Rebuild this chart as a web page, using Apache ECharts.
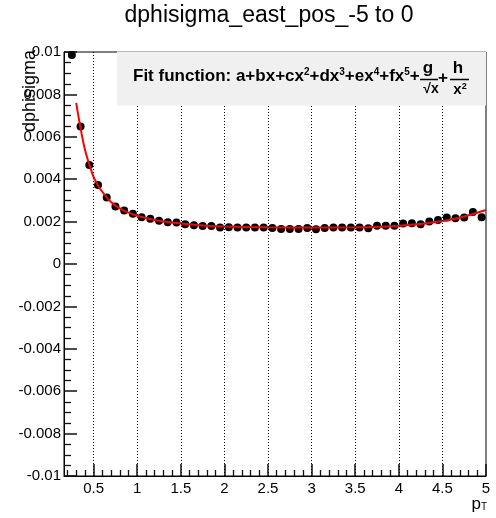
<!DOCTYPE html>
<html><head><meta charset="utf-8">
<script src="https://cdn.jsdelivr.net/npm/echarts@6/dist/echarts.min.js"></script>
<style>html,body{margin:0;padding:0;background:#fff}#c{width:496px;height:518px}</style>
</head><body><div id="c"></div>
<script>
const titleText = 'dphisigma_east_pos_-5 to 0';
const yTitle = 'dphisigma';
const ptX = [0.25,0.35,0.45,0.55,0.65,0.75,0.85,0.95,1.05,1.15,1.25,1.35,1.45,1.55,1.65,1.75,1.85,1.95,
  2.05,2.15,2.25,2.35,2.45,2.55,2.65,2.75,2.85,2.95,3.05,3.15,3.25,3.35,3.45,3.55,3.65,3.75,3.85,3.95,
  4.05,4.15,4.25,4.35,4.45,4.55,4.65,4.75,4.85,4.95];
const ptY = [0.00986,0.00648,0.00467,0.00373,0.00314,0.00271,0.00252,0.00237,0.00221,0.00214,0.00204,0.00197,0.00196,0.00188,0.00183,0.00179,0.00179,0.00172,
  0.00173,0.00172,0.00172,0.00172,0.00172,0.0017,0.00165,0.00165,0.00165,0.0017,0.00164,0.0017,0.00172,0.00172,0.00172,0.00172,0.00169,0.00181,0.0018,0.0018,
  0.00191,0.00192,0.00188,0.002,0.00208,0.00219,0.00216,0.00219,0.00245,0.00221];
const fitX = [0.3,0.35,0.4,0.45,0.5,0.55,0.6,0.7,0.8,0.9,1.0,1.2,1.4,1.6,1.8,2.0,2.5,3.0,3.5,3.8,4.0,4.2,4.4,4.6,4.8,5.0];
const fitY = [0.0076,0.0064,0.0054,0.0047,0.0041,0.0037,0.0034,0.00292,0.00262,0.00242,0.00228,0.00208,0.00196,0.00187,0.00181,0.00177,0.00173,0.00172,0.00173,0.00176,0.0018,0.00187,0.00197,0.0021,0.0023,0.00255];
const xMajorTicks = [0.5,1,1.5,2,2.5,3,3.5,4,4.5,5];
const xMinorTicks = [0.2,0.3,0.4,0.6,0.7,0.8,0.9,1.1,1.2,1.3,1.4,1.6,1.7,1.8,1.9,2.1,2.2,2.3,2.4,2.6,2.7,2.8,2.9,
  3.1,3.2,3.3,3.4,3.6,3.7,3.8,3.9,4.1,4.2,4.3,4.4,4.6,4.7,4.8,4.9];
const xMin = 0.16, xMax = 5, yMin = -0.01, yMax = 0.01, yStep = 0.002;

const FF = '"Liberation Sans", Arial, Helvetica, sans-serif';
const TICK = '#111';
const chart = echarts.init(document.getElementById('c'), null, {renderer: 'canvas'});
const gridLines = xMajorTicks.filter(v => v < xMax).map(v => ({xAxis: v}));

chart.setOption({
  animation: false,
  title: {text: titleText, left: 269, top: 4, textAlign: 'center', padding: 0,
    textStyle: {fontFamily: FF, fontSize: 23, fontWeight: 'normal', color: '#000'}},
  grid: {left: 64, right: 10, top: 52, bottom: 42, show: true, borderColor: '#000', borderWidth: 1},
  xAxis: [{
    type: 'value', min: xMin, max: xMax,
    axisLine: {show: true, onZero: false, lineStyle: {color: '#000'}},
    axisTick: {show: true, inside: true, length: 12, customValues: xMajorTicks, lineStyle: {color: TICK, width: 1.5}},
    axisLabel: {show: true, customValues: xMajorTicks, margin: 5, color: '#000', fontFamily: FF, fontSize: 15},
    splitLine: {show: false}
  }, {
    type: 'value', min: xMin, max: xMax, position: 'bottom',
    axisLine: {show: false, onZero: false},
    axisTick: {show: true, inside: true, length: 6, customValues: xMinorTicks, lineStyle: {color: TICK, width: 1.3}},
    axisLabel: {show: false},
    splitLine: {show: false}
  }],
  yAxis: {
    type: 'value', min: yMin, max: yMax, interval: yStep,
    axisLine: {show: true, lineStyle: {color: '#000'}},
    axisTick: {show: true, inside: true, length: 13, lineStyle: {color: TICK, width: 1.5}},
    minorTick: {show: true, splitNumber: 4, length: 7, lineStyle: {color: TICK, width: 1.3}},
    axisLabel: {margin: 3, color: '#000', fontFamily: FF, fontSize: 15},
    splitLine: {show: false}
  },
  series: [{
    type: 'scatter', data: ptX.map((x, i) => [x, ptY[i]]),
    symbol: 'circle', symbolSize: 8, itemStyle: {color: '#000', opacity: 1}, z: 2,
    markLine: {silent: true, symbol: 'none', label: {show: false},
      lineStyle: {color: '#000', width: 1, type: [1, 2]}, data: gridLines, animation: false}
  }, {
    type: 'line', data: fitX.map((x, i) => [x, fitY[i]]),
    showSymbol: false, smooth: 0.4, lineStyle: {color: '#ff0000', width: 2}, z: 3
  }],
  graphic: [
    {type: 'rect', shape: {x: 117, y: 51.5, width: 369, height: 54}, style: {fill: '#f0f0f0'}, z: 100},
    {type: 'text', x: 133, y: 76, z: 101, style: {
      text: 'Fit function: a+bx+cx{s|2}+dx{s|3}+ex{s|4}+fx{s|5}+',
      font: 'bold 17px ' + FF, fill: '#000', verticalAlign: 'middle',
      rich: {s: {fontSize: 10, fontWeight: 'bold', fontFamily: FF, verticalAlign: 'top', fill: '#000'}}}},
    {type: 'text', x: 428, y: 68, z: 101, style: {text: 'g', font: 'bold 17px ' + FF, fill: '#000', align: 'center', verticalAlign: 'middle'}},
    {type: 'line', z: 101, shape: {x1: 420, y1: 79.5, x2: 438, y2: 79.5}, style: {stroke: '#000', lineWidth: 1.5}},
    {type: 'text', x: 431, y: 89, z: 101, style: {text: '√x', font: 'bold 14px ' + FF, fill: '#000', align: 'center', verticalAlign: 'middle'}},
    {type: 'text', x: 443, y: 78, z: 101, style: {text: '+', font: 'bold 17px ' + FF, fill: '#000', align: 'center', verticalAlign: 'middle'}},
    {type: 'text', x: 458, y: 68, z: 101, style: {text: 'h', font: 'bold 17px ' + FF, fill: '#000', align: 'center', verticalAlign: 'middle'}},
    {type: 'line', z: 101, shape: {x1: 450, y1: 79.5, x2: 469, y2: 79.5}, style: {stroke: '#000', lineWidth: 1.5}},
    {type: 'text', x: 460, y: 90, z: 101, style: {text: 'x{s|2}', font: 'bold 15px ' + FF, fill: '#000', align: 'center', verticalAlign: 'middle',
      rich: {s: {fontSize: 9, fontWeight: 'bold', fontFamily: FF, verticalAlign: 'top', fill: '#000'}}}},
    {type: 'text', x: 30, y: 50, rotation: Math.PI / 2, z: 101, style: {text: yTitle, font: '18px ' + FF, fill: '#000', align: 'right', verticalAlign: 'middle'}},
    {type: 'text', x: 487, y: 504, z: 101, style: {text: 'p{b|T}', font: '17px ' + FF, fill: '#000', align: 'right', verticalAlign: 'middle',
      rich: {b: {fontSize: 10, fontFamily: FF, verticalAlign: 'bottom', fill: '#000'}}}}
  ]
});
</script>
</body></html>
